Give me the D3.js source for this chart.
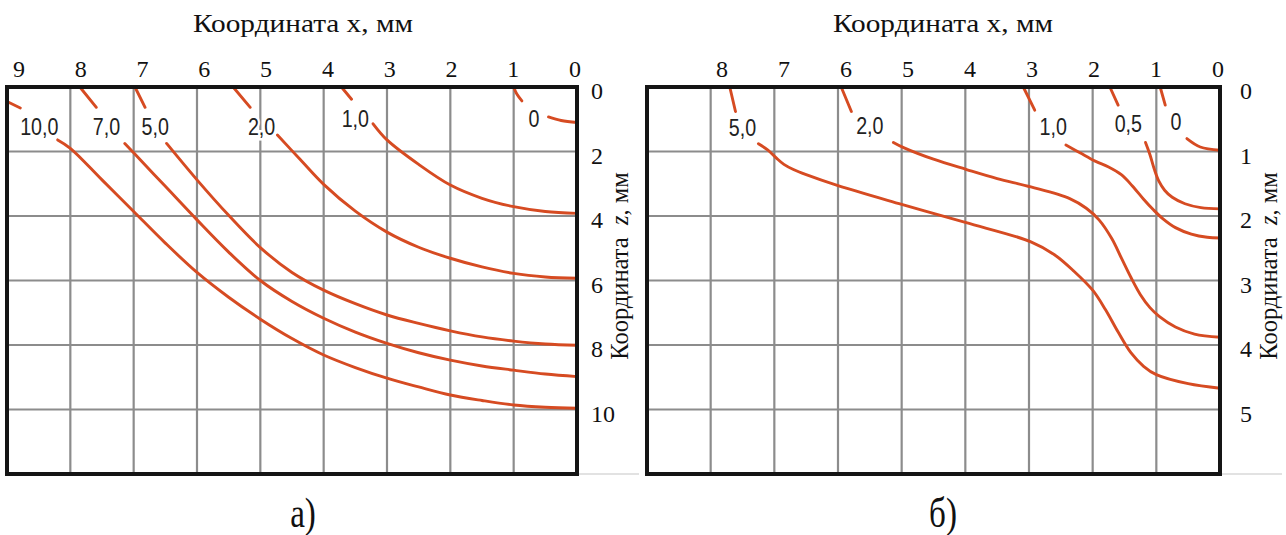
<!DOCTYPE html>
<html><head><meta charset="utf-8">
<script src="https://cdn.jsdelivr.net/npm/d3@7"></script>
<style>body{margin:0;background:#fff}svg{display:block}</style>
</head><body><svg id="c" width="1286" height="535"></svg>
<script>
// ---------- data (x, z in mm) ----------
const xTicksA = [9,8,7,6,5,4,3,2,1,0];
const zTicksA = [0,2,4,6,8,10];
const xTicksB = [8,7,6,5,4,3,2,1,0];
const zTicksB = [0,1,2,3,4,5];

// left panel (a) isolines; null = gap where the label sits
const curveA_0   = [[1.0,0],[0.95,0.22],[0.87,0.43], null, [0.45,0.93],[0.25,1.04],[0,1.1]];
const curveA_1   = [[3.72,0],[3.56,0.38], null, [3.22,1.14],[3.0,1.64],[2.5,2.4],[2.0,3.04],[1.5,3.45],[1.0,3.71],[0.5,3.86],[0,3.92]];
const curveA_2   = [[5.43,0],[5.16,0.63], null, [4.73,1.49],[4.37,2.25],[4.0,3.02],[3.5,3.85],[3.0,4.5],[2.5,4.97],[2.0,5.31],[1.5,5.58],[1.0,5.78],[0.5,5.89],[0,5.93]];
const curveA_5   = [[6.98,0],[6.82,0.63], null, [6.48,1.75],[6.0,2.88],[5.5,3.98],[5.0,4.98],[4.5,5.75],[4.0,6.3],[3.5,6.72],[3.0,7.07],[2.5,7.33],[2.0,7.56],[1.5,7.75],[1.0,7.88],[0.5,7.97],[0,8.01]];
const curveA_7   = [[7.85,0],[7.59,0.63], null, [7.14,1.75],[7.0,2.04],[6.5,3.08],[6.0,4.12],[5.5,5.12],[5.0,6.0],[4.5,6.65],[4.0,7.17],[3.5,7.6],[3.0,7.95],[2.5,8.24],[2.0,8.47],[1.5,8.65],[1.0,8.78],[0.5,8.9],[0,8.98]];
const curveA_10  = [[9,0.45],[8.79,0.65], null, [8.2,1.64],[8.0,1.9],[7.5,2.88],[7.0,3.86],[6.5,4.84],[6.0,5.75],[5.5,6.52],[5.0,7.2],[4.5,7.8],[4.0,8.31],[3.5,8.7],[3.0,9.03],[2.5,9.3],[2.0,9.55],[1.5,9.72],[1.0,9.86],[0.5,9.93],[0,9.96]];
const labelsA = [["10,0",8.49,1.24],["7,0",7.43,1.24],["5,0",6.66,1.24],["2,0",4.98,1.24],["1,0",3.5,0.98],["0",0.68,0.98]];

// right panel (б) isolines
const curveB_0   = [[0.94,0],[0.86,0.28], null, [0.52,0.8],[0.31,0.93],[0,0.98]];
const curveB_05  = [[1.73,0],[1.6,0.28], null, [1.17,0.86],[1.1,1.05],[1.03,1.28],[0.96,1.46],[0.87,1.6],[0.75,1.71],[0.55,1.81],[0.3,1.87],[0,1.89]];
const curveB_1   = [[3.09,0],[2.91,0.36], null, [2.42,0.9],[2.2,1.02],[1.96,1.15],[1.75,1.24],[1.55,1.36],[1.38,1.53],[1.2,1.74],[1.05,1.9],[0.9,2.04],[0.7,2.18],[0.45,2.28],[0.2,2.33],[0,2.34]];
const curveB_2   = [[5.95,0],[5.79,0.38], null, [5.13,0.86],[4.97,0.94],[4.5,1.12],[3.98,1.28],[3.5,1.42],[2.97,1.55],[2.36,1.73],[2.1,1.88],[1.9,2.06],[1.7,2.35],[1.55,2.65],[1.4,2.95],[1.25,3.22],[1.1,3.42],[0.95,3.56],[0.7,3.72],[0.4,3.83],[0,3.88]];
const curveB_5   = [[7.7,0],[7.61,0.38], null, [7.25,0.88],[7.1,0.98],[6.97,1.1],[6.85,1.2],[6.7,1.28],[6.5,1.36],[6.0,1.53],[5.0,1.82],[4.0,2.1],[2.97,2.4],[2.6,2.6],[2.3,2.85],[2.0,3.15],[1.8,3.45],[1.6,3.8],[1.4,4.12],[1.2,4.33],[1.0,4.46],[0.5,4.6],[0,4.67]];
const labelsB = [["5,0",7.5,0.63],["2,0",5.5,0.6],["1,0",2.62,0.62],["0,5",1.44,0.57],["0",0.69,0.54]];

const titleX = "Координата х, мм";
const panelNames = ["а)","б)"];

// ---------- drawing ----------
const svg = d3.select("#c");
const RED = "#d64b22", GRID = "#8c8c8c";

function panel(opt){
  const g = svg.append("g");
  const x = d3.scaleLinear().domain([9,0]).range(opt.xr);
  const z = d3.scaleLinear().domain([0,opt.zmax]).range([87,474]);
  const xl = d3.scaleLinear().domain([0,opt.xTicks[0]]).range(opt.labelXr);
  const [x0,x1] = opt.xr;
  // light line after the frame
  g.append("line").attr("x1",x1).attr("x2",x1+62).attr("y1",z(opt.zmax)).attr("y2",z(opt.zmax))
    .attr("stroke","#d8d8d8").attr("stroke-width",1.5);
  // grid
  g.selectAll(".vg").data(d3.range(1,9)).join("line")
    .attr("x1",d=>x(d)).attr("x2",d=>x(d)).attr("y1",z(0)).attr("y2",z(opt.zmax))
    .attr("stroke",GRID).attr("stroke-width",2.2);
  g.selectAll(".hg").data(opt.zGrid).join("line")
    .attr("x1",x0).attr("x2",x1).attr("y1",d=>z(d)).attr("y2",d=>z(d))
    .attr("stroke",GRID).attr("stroke-width",2.2);
  // curves
  const line = d3.line().defined(d=>d!==null).x(d=>x(d[0])).y(d=>z(d[1]))
    .curve(d3.curveCatmullRom.alpha(0.5));
  g.selectAll(".cv").data(opt.curves).join("path")
    .attr("d",line).attr("fill","none").attr("stroke",RED).attr("stroke-width",2.9)
    .attr("stroke-linecap","round").attr("stroke-linejoin","round");
  // curve labels
  g.selectAll(".lb").data(opt.labels).join("text")
    .attr("transform",d=>`translate(${x(d[1])},${z(d[2])}) scale(0.82,1)`)
    .attr("text-anchor","middle").attr("dominant-baseline","central")
    .attr("font-family","'Liberation Sans', Arial, sans-serif").attr("font-size",24)
    .attr("fill","#222").attr("stroke","#fff").attr("stroke-width",5).attr("paint-order","stroke")
    .text(d=>d[0]);
  // frame
  g.append("rect").attr("x",x0).attr("y",z(0)).attr("width",x1-x0).attr("height",z(opt.zmax)-z(0))
    .attr("fill","none").attr("stroke","#151515").attr("stroke-width",4);
  // x tick labels
  g.selectAll(".xt").data(opt.xTicks).join("text")
    .attr("x",d=>xl(d)).attr("y",77).attr("text-anchor","middle")
    .attr("font-family","'Liberation Serif','Times New Roman',serif").attr("font-size",24)
    .attr("fill","#111").text(d=>d);
  // z tick labels
  g.selectAll(".zt").data(opt.zTicks).join("text")
    .attr("x",x1+opt.zlx).attr("y",d=>z(d)+4).attr("dominant-baseline","central")
    .attr("font-family","'Liberation Serif','Times New Roman',serif").attr("font-size",24)
    .attr("fill","#111").text(d=>d);
  // x title
  g.append("text").attr("x",opt.titleCx).attr("y",32).attr("text-anchor","middle")
    .attr("font-family","'Liberation Serif','Times New Roman',serif").attr("font-size",26)
    .attr("textLength",220).attr("lengthAdjust","spacingAndGlyphs")
    .attr("fill","#111").text(titleX);
  // z title (rotated)
  const zt = g.append("text").attr("transform",`translate(${x1+opt.zTitleDx},266) rotate(-90)`)
    .attr("text-anchor","middle")
    .attr("font-family","'Liberation Serif','Times New Roman',serif").attr("font-size",24.5)
    .attr("fill","#111");
  zt.append("tspan").text("Координата\u00a0\u00a0");
  zt.append("tspan").attr("font-style","italic").text("z");
  zt.append("tspan").text(", мм");
  // panel name
  g.append("text").attr("transform",`translate(${opt.titleCx},527) scale(0.92,1.2)`)
    .attr("text-anchor","middle")
    .attr("font-family","'Liberation Serif','Times New Roman',serif").attr("font-size",36)
    .attr("fill","#111").text(opt.name);
}

panel({xr:[7,577], zmax:12, zGrid:[2,4,6,8,10], xTicks:xTicksA, zTicks:zTicksA,
  labelXr:[575,19], curves:[curveA_0,curveA_1,curveA_2,curveA_5,curveA_7,curveA_10],
  labels:labelsA, zlx:14, zTitleDx:51, titleCx:303, name:panelNames[0]});
panel({xr:[647,1220], zmax:6, zGrid:[1,2,3,4,5], xTicks:xTicksB, zTicks:zTicksB,
  labelXr:[1218,722], curves:[curveB_0,curveB_05,curveB_1,curveB_2,curveB_5],
  labels:labelsB, zlx:20, zTitleDx:57, titleCx:943, name:panelNames[1]});
</script></body></html>
